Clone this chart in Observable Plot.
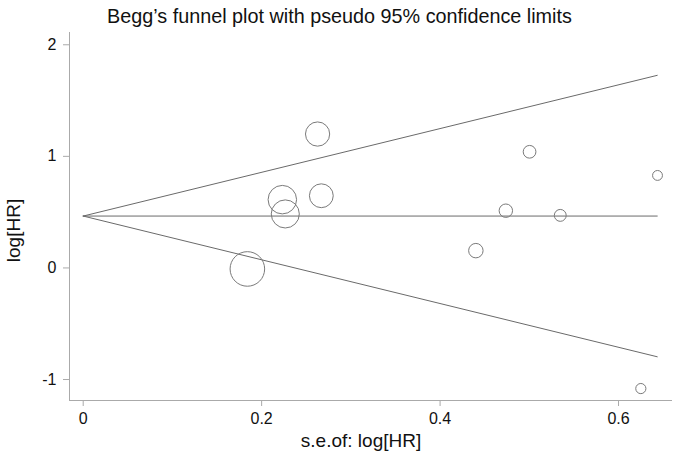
<!DOCTYPE html>
<html>
<head>
<meta charset="utf-8">
<script src="https://cdn.jsdelivr.net/npm/d3@7"></script>
<script src="https://cdn.jsdelivr.net/npm/@observablehq/plot@0.6"></script>
<style>
  html, body { margin: 0; padding: 0; background: #fff; }
  #title { width: 675px; height: 32px; line-height: 32px; text-align: center; font-family: "Liberation Sans", Arial, Helvetica, sans-serif; font-size: 19.8px; color: #111; padding-left: 4px; box-sizing: border-box; }
  #chart svg { display: block; }
</style>
</head>
<body>
<div id="title">Begg’s funnel plot with pseudo 95% confidence limits</div>
<div id="chart"></div>
<script>
// Study standard errors and log hazard ratios
const se    = [0.184, 0.2232, 0.2265, 0.2627, 0.2669, 0.4401, 0.4737, 0.5003, 0.5347, 0.625, 0.6437];
const logHR = [-0.009, 0.612, 0.484, 1.200, 0.647, 0.155, 0.513, 1.041, 0.471, -1.081, 0.829];
// Pooled estimate and se range of the pseudo-confidence funnel
const pooled = 0.465;
const funnelSE = [0, 0.6434];
const xTicks = [0, 0.2, 0.4, 0.6];
const yTicks = [-1, 0, 1, 2];
const xDomain = [-0.01535, 0.6605];
const yDomain = [-1.188, 2.110];

const studies = se.map((s, i) => ({se: s, logHR: logHR[i]}));
const funnel = funnelSE.flatMap(s => [
  {se: s, y: pooled + 1.96 * s, line: "upper"},
  {se: s, y: pooled - 1.96 * s, line: "lower"},
  {se: s, y: pooled, line: "center"}
]);

const font = '"Liberation Sans", Arial, Helvetica, sans-serif';

const chart = Plot.plot({
  width: 675,
  height: 425,
  marginTop: 0,
  marginLeft: 69,
  marginRight: 3,
  marginBottom: 57,
  style: {fontFamily: font, color: "#111", background: "#fff"},
  x: {domain: xDomain},
  y: {domain: yDomain},
  r: {type: "linear", domain: [0, 1], range: [0, 3.18]},
  marks: [
    Plot.ruleX([xDomain[0]], {stroke: "#aaa", strokeWidth: 1}),
    Plot.ruleY([yDomain[0]], {stroke: "#aaa", strokeWidth: 1}),
    Plot.axisX({ticks: xTicks, tickSize: 6, tickPadding: 6.5, fontSize: 16, stroke: "#aaa", tickFormat: d => String(d), label: null, fill: "#111"}),
    Plot.axisY({ticks: yTicks, tickSize: 6, tickPadding: 7, fontSize: 16, stroke: "#aaa", tickFormat: d => String(d), label: null, fill: "#111"}),
    Plot.line(funnel, {x: "se", y: "y", z: "line", stroke: "#6a6a6a", strokeWidth: 1}),
    Plot.dot(studies, {x: "se", y: "logHR", r: d => 1 / d.se, stroke: "#7a7a7a", strokeWidth: 1, fill: "none"}),
    Plot.text(["s.e.of: log[HR]"], {frameAnchor: "bottom", dx: -10, dy: 46.7, lineAnchor: "bottom", fontSize: 19, fill: "#111"}),
    Plot.text(["log[HR]"], {frameAnchor: "left", rotate: -90, textAnchor: "middle", dx: -49.5, dy: 14, lineAnchor: "bottom", fontSize: 19, fill: "#111"})
  ]
});
document.getElementById("chart").appendChild(chart);
</script>
</body>
</html>
